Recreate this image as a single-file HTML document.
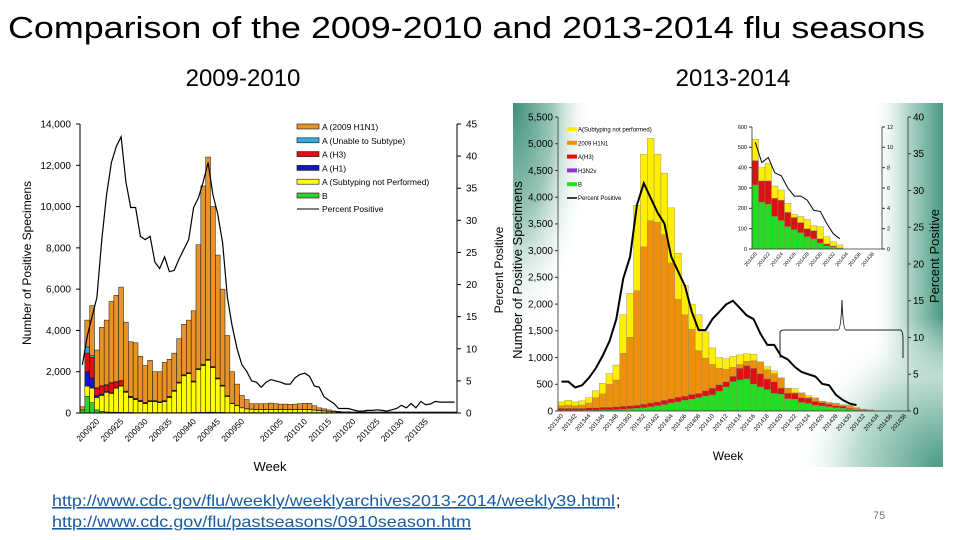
<!DOCTYPE html>
<html><head><meta charset="utf-8"><style>
html,body{margin:0;padding:0;background:#fff;width:960px;height:540px;overflow:hidden}
svg{display:block;font-family:"Liberation Sans",Arial,sans-serif}
</style></head><body>
<svg id="s" width="960" height="540" viewBox="0 0 960 540" xmlns="http://www.w3.org/2000/svg">
<defs>
<radialGradient id="g1" cx="0" cy="0" r="1" gradientUnits="userSpaceOnUse" gradientTransform="translate(513 103) scale(80 240)"><stop offset="0" stop-color="#3f8f7a"/><stop offset="0.5" stop-color="#9cc8b9"/><stop offset="1" stop-color="#ffffff" stop-opacity="0"/></radialGradient>
<linearGradient id="g2" x1="0" y1="0" x2="1" y2="0"><stop offset="0" stop-color="#ffffff" stop-opacity="0"/><stop offset="0.5" stop-color="#b5d8cb"/><stop offset="1" stop-color="#4a9a84"/></linearGradient>
<radialGradient id="g3" cx="943" cy="467" r="150" gradientUnits="userSpaceOnUse"><stop offset="0" stop-color="#4a9a84"/><stop offset="0.6" stop-color="#c0ded3"/><stop offset="1" stop-color="#ffffff" stop-opacity="0"/></radialGradient>
</defs>
<text x="8" y="38" font-size="31" textLength="917" lengthAdjust="spacingAndGlyphs" fill="#000">Comparison of the 2009-2010 and 2013-2014 flu seasons</text>
<text x="243" y="86" font-size="24" text-anchor="middle" fill="#000">2009-2010</text>
<text x="733" y="86" font-size="24" text-anchor="middle" fill="#000">2013-2014</text>
<g>
<rect x="513" y="103" width="430" height="364" fill="#ffffff"/>
<rect x="513" y="103" width="430" height="364" fill="url(#g1)"/>
<rect x="870" y="103" width="73" height="364" fill="url(#g2)"/>
<rect x="513" y="103" width="430" height="364" fill="url(#g3)"/>
</g>
<g id="left"></g>
<g id="right"></g>
<g id="inset"></g>
<path d="M780 358 L780 332 Q781 330 784 330 L838 330 Q841 330 842 300 Q843 330 846 330 L900 330 Q903 330 903 340 L903 358" fill="none" stroke="#222" stroke-width="1"/>
<a><text x="52" y="506" font-size="16" textLength="563" lengthAdjust="spacingAndGlyphs" fill="#1a5aa0" text-decoration="underline">http://www.cdc.gov/flu/weekly/weeklyarchives2013-2014/weekly39.html</text></a>
<text x="616" y="506" font-size="16" fill="#000">;</text>
<a><text x="52" y="527" font-size="16" textLength="419" lengthAdjust="spacingAndGlyphs" fill="#1a5aa0" text-decoration="underline">http://www.cdc.gov/flu/pastseasons/0910season.htm</text></a>
<text x="873" y="519" font-size="11" fill="#777">75</text>
</svg>
<script>
// ---------- 2009-2010 data (week index from 2009 wk17) ----------
const leftTotal=[300,4500,5200,3050,4150,4500,5400,5700,6100,4400,3450,3400,2750,2300,2550,2000,2000,2450,2600,2900,3600,4300,4500,4950,8150,11000,12400,10000,7650,6000,3750,2000,1400,850,650,450,450,450,450,480,450,430,430,420,430,450,470,470,350,250,200,150,100,80,60,60,50,50,50,50,50,50,50,50,50,50,50,50,50,50,50,50,50,50,50,50,50,50];
const leftGreen=[150,800,500,150,80,50,40,40,30,30,30,20,20,20,20,20,20,20,20,20,20,20,20,30,30,30,40,40,30,30,20,20,20,20,20,20,20,20,20,20,20,20,20,20,20,20,20,20,20,20,20,20,20,20,20,20,20,20,20,20,20,20,20,20,20,20,20,20,20,20,20,20,20,20,20,20,20,20];
const leftYellow=[0,500,700,600,770,950,910,1160,1270,970,720,630,530,430,530,530,480,530,730,1030,1430,1780,1880,1470,2070,2270,2510,2160,1620,1270,780,430,330,230,180,160,150,150,150,150,150,150,150,150,150,150,150,150,120,100,80,60,40,30,20,20,10,10,10,10,10,10,10,10,10,10,10,10,10,10,10,10,10,10,10,10,10,10];
const leftBlue=[0,700,500,100,60,40,30,30,30,20,20,10,10,10,10,10,10,10,10,10,10,10,10,10,10,10,10,10,10,10,10,0,0,0,0,0,0,0,0,0,0,0,0,0,0,0,0,0,0,0,0,0,0,0,0,0,0,0,0,0,0,0,0,0,0,0,0,0,0,0,0,0,0,0,0,0,0,0];
const leftRed=[0,900,1000,350,390,310,470,270,220,30,30,40,40,40,30,30,30,30,30,30,30,30,30,30,30,30,30,30,30,30,20,20,20,10,10,10,10,10,10,10,10,10,10,10,10,10,10,10,10,10,10,10,10,10,10,10,10,10,10,10,10,10,10,10,10,10,10,10,10,10,10,10,10,10,10,10,10,10];
const leftCyan=[0,300,80,20,20,20,20,20,20,10,10,10,10,10,10,10,10,10,10,10,10,10,10,10,10,10,10,10,10,10,10,0,0,0,0,0,0,0,0,0,0,0,0,0,0,0,0,0,0,0,0,0,0,0,0,0,0,0,0,0,0,0,0,0,0,0,0,0,0,0,0,0,0,0,0,0,0,0];
const leftPct=[7.5,12,15,18,27,34,39,41.5,43,36,32,32,27.5,27,27.5,23.5,22.5,24.3,22,22.2,24,25.5,27,32,33.5,36,39,34,31,26.5,18,13.5,10,7.5,6.5,5,4.8,4,4.8,5.2,5,4.8,4.5,4.5,5.5,6,6.2,5.7,4.2,4,2.5,2,1.5,0.7,0.7,0.7,0.5,0.3,0.3,0.4,0.4,0.5,0.4,0.3,0.5,0.7,1.2,0.8,1.5,0.8,1.8,1.3,1.4,1.8,1.7,1.7,1.7,1.7];
const leftYTicks=["0","2,000","4,000","6,000","8,000","10,000","12,000","14,000"];
const leftY2Ticks=["0","5","10","15","20","25","30","35","40","45"];
const leftXLabels=["200920","200925","200930","200935","200940","200945","200950","201005","201010","201015","201020","201025","201030","201035"];
const leftXLabelIdx=[3,8,13,18,23,28,33,41,46,51,56,61,66,71];
// ---------- 2013-2014 data (week index from 2013 wk40) ----------
const rightTotal=[170,200,170,190,250,380,520,700,860,1800,2200,3850,4800,5100,4800,4450,3800,2950,2350,2000,1800,1480,1180,1000,980,1020,1050,1070,1060,900,830,750,540,400,420,310,290,225,170,160,145,115,110,60,35,20,5,0,0,0,0];
const rightOrangeTop=[100,110,100,110,150,250,320,500,580,1080,1380,2250,3070,3560,3530,3300,2770,2090,1800,1530,1130,990,870,800,780,820,870,930,940,920,770,700,620,430,340,340,255,245,185,160,135,105,95,55,30,18,5,0,0,0,0];
const rightRedTop=[50,50,50,50,60,60,70,70,80,90,100,110,130,150,170,200,230,260,280,310,330,380,430,490,550,650,800,850,800,700,600,550,430,335,335,250,240,180,155,130,100,90,50,25,15,5,0,0,0,0,0];
const rightGreen=[10,10,10,10,15,15,20,20,25,30,40,50,60,80,100,120,150,170,200,220,250,280,300,370,450,550,580,600,500,450,400,330,315,230,220,160,140,110,95,80,60,50,30,15,10,3,0,0,0,0,0];
const rightPct=[4,4,3.2,3.5,4.5,5.8,7.5,9.5,12.5,18,21,28,31,29,27,25.5,21,19,17,13.5,11,11,12.5,13.5,14.5,15,14,13,12.5,10.5,9,9,7.5,7,6,5.3,5,4.7,3.7,3.5,2.2,1.5,1,0.8];
const rightYTicks=["0","500","1,000","1,500","2,000","2,500","3,000","3,500","4,000","4,500","5,000","5,500"];
const rightY2Ticks=["0","5","10","15","20","25","30","35","40"];
const rightXLabels=["201340","201342","201344","201346","201348","201350","201352","201402","201404","201406","201408","201410","201412","201414","201416","201418","201420","201422","201424","201426","201428","201430","201432","201434","201436","201438"];
// ---------- inset data (from 2014 wk20) ----------
const insetTotal=[540,400,420,310,290,225,170,160,145,115,110,60,35,20];
const insetRedTop=[435,335,335,250,240,180,155,130,100,90,50,25,15,5];
const insetGreen=[315,230,220,160,140,110,95,80,60,50,30,15,10,3];
const insetPct=[10.5,8.5,9,7.5,7.2,6,5.2,5.2,4.8,3.8,3.7,2.5,1.5,1.0];
const insetYTicks=["0","100","200","300","400","500","600"];
const insetY2Ticks=["0","2","4","6","8","10","12"];
const insetXLabels=["201420","201422","201424","201426","201428","201430","201432","201434","201436","201438"];

const NS="http://www.w3.org/2000/svg";
function mk(parent,tag,attrs,txt){const e=document.createElementNS(NS,tag);for(const k in attrs)e.setAttribute(k,attrs[k]);if(txt!==undefined)e.textContent=txt;parent.appendChild(e);return e;}

// ===== LEFT CHART =====
(function(){
const g=document.getElementById('left');
const x0=80,x1=457,yb=413,yt=124,n=78,ymax=14000,y2max=45;
const slot=(x1-x0)/n;
const X=i=>x0+i*slot;
const Y=v=>yb-(v/ymax)*(yb-yt);
const Y2=v=>yb-(v/y2max)*(yb-yt);
for(let i=0;i<leftTotal.length;i++){
  let base=0;
  const segs=[[leftGreen[i],'#33cc33'],[leftYellow[i],'#ffff00'],[leftBlue[i],'#1515cc'],[leftRed[i],'#dd1111'],[leftCyan[i],'#33aadd']];
  let sum=0;segs.forEach(s=>sum+=s[0]);
  segs.push([Math.max(0,leftTotal[i]-sum),'#e8922a']);
  segs.forEach(s=>{ if(s[0]<=0)return;
    const r=mk(g,'rect',{x:X(i),y:Y(base+s[0]),width:slot,height:Y(base)-Y(base+s[0]),fill:s[1],stroke:'#111','stroke-width':0.5});
    
    
    base+=s[0];});
}
let d='';leftPct.forEach((v,i)=>{d+=(i?'L':'M')+(X(i)+slot/2).toFixed(1)+' '+Y2(v).toFixed(1);});
const pl=mk(g,'path',{d:d,fill:'none',stroke:'#000','stroke-width':1.2});


mk(g,'line',{x1:x0,y1:yt,x2:x0,y2:yb,stroke:'#000','stroke-width':1});
mk(g,'line',{x1:x1,y1:yt,x2:x1,y2:yb,stroke:'#000','stroke-width':1});
mk(g,'line',{x1:x0,y1:yb,x2:x1,y2:yb,stroke:'#000','stroke-width':1});
leftYTicks.forEach((t,k)=>{const v=k*2000;mk(g,'line',{x1:x0-4,y1:Y(v),x2:x0,y2:Y(v),stroke:'#000'});
  const tx=mk(g,'text',{x:x0-9,y:Y(v)+3.5,'font-size':10,'text-anchor':'end'},t);
  
  });
leftY2Ticks.forEach((t,k)=>{const v=k*5;mk(g,'line',{x1:x1,y1:Y2(v),x2:x1+4,y2:Y2(v),stroke:'#000'});
  const tx=mk(g,'text',{x:x1+9,y:Y2(v)+3.5,'font-size':10},t);
  
  });
leftXLabels.forEach((t,k)=>{const cx=X(leftXLabelIdx[k])+slot/2;
  const tx=mk(g,'text',{x:cx+3,y:yb+9,'font-size':8.5,'text-anchor':'end',transform:`rotate(-45 ${cx+3} ${yb+9})`},t);
  
  });
const yt1=mk(g,'text',{x:31,y:263,'font-size':12,'text-anchor':'middle',transform:'rotate(-90 31 263)'},'Number of Positive Specimens');


const yt2=mk(g,'text',{x:503,y:270,'font-size':12,'text-anchor':'middle',transform:'rotate(-90 503 270)'},'Percent Positive');


const xt=mk(g,'text',{x:270,y:471,'font-size':13,'text-anchor':'middle'},'Week');


const leg=[['A (2009 H1N1)','#e8922a'],['A (Unable to Subtype)','#33aadd'],['A (H3)','#dd1111'],['A (H1)','#1515cc'],['A (Subtyping not Performed)','#ffff00'],['B','#33cc33']];
leg.forEach((l,k)=>{const yy=124+k*13.8;
  const r=mk(g,'rect',{x:297,y:yy,width:22,height:5,fill:l[1],stroke:'#111','stroke-width':0.6});
  
  
  const tx=mk(g,'text',{x:322,y:yy+6,'font-size':8.5},l[0]);
  
  });
mk(g,'line',{x1:297,y1:209,x2:319,y2:209,stroke:'#000'});
const lt=mk(g,'text',{x:322,y:212,'font-size':8.5},'Percent Positive');


})();

// ===== RIGHT CHART =====
function stackChart(g,cfg){
const {x0,x1,yb,yt,n,ymax,y2max}=cfg;
const slot=(x1-x0)/n;
const X=i=>x0+i*slot;
const Y=v=>yb-(v/ymax)*(yb-yt);
const Y2=v=>yb-(v/y2max)*(yb-yt);
for(let i=0;i<cfg.total.length;i++){
  const layers=[[0,cfg.green[i],'#22dd22'],[cfg.green[i],cfg.redTop[i],'#dd1111']];
  if(cfg.orangeTop) layers.push([cfg.redTop[i],cfg.orangeTop[i],'#f0900a'],[cfg.orangeTop[i],cfg.total[i],'#ffee00']);
  else layers.push([cfg.redTop[i],cfg.total[i],'#ffee00']);
  layers.forEach(L=>{ if(L[1]<=L[0])return;
    const r=mk(g,'rect',{x:X(i),y:Y(L[1]),width:slot,height:Y(L[0])-Y(L[1]),fill:L[2],stroke:'#8a8a6a','stroke-width':0.4});
    
    });
}
let d='';cfg.pct.forEach((v,i)=>{d+=(i?'L':'M')+(X(i)+slot/2).toFixed(1)+' '+Y2(v).toFixed(1);});
const pl=mk(g,'path',{d:d,fill:'none',stroke:'#000','stroke-width':cfg.lw});


mk(g,'line',{x1:x0,y1:yt,x2:x0,y2:yb,stroke:'#333','stroke-width':0.8});
mk(g,'line',{x1:x1,y1:yt,x2:x1,y2:yb,stroke:'#333','stroke-width':0.8});
mk(g,'line',{x1:x0,y1:yb,x2:x1,y2:yb,stroke:'#333','stroke-width':0.8});
const nt=cfg.yTicks.length-1;
cfg.yTicks.forEach((t,k)=>{const yy=yb-k*(yb-yt)/nt;mk(g,'line',{x1:x0-3,y1:yy,x2:x0,y2:yy,stroke:'#333'});
  const tx=mk(g,'text',{x:x0-5,y:yy+cfg.fs/3,'font-size':cfg.fs,'text-anchor':'end'},t);
  
  });
const n2=cfg.y2Ticks.length-1;
cfg.y2Ticks.forEach((t,k)=>{const yy=yb-k*(yb-yt)/n2;mk(g,'line',{x1:x1,y1:yy,x2:x1+3,y2:yy,stroke:'#333'});
  const tx=mk(g,'text',{x:x1+5,y:yy+cfg.fs/3,'font-size':cfg.fs},t);
  
  });
cfg.xLabels.forEach((t,k)=>{const cx=X(k*2)+slot/2+2;
  const tx=mk(g,'text',{x:cx,y:yb+5,'font-size':cfg.xfs,'text-anchor':'end',transform:`rotate(-50 ${cx} ${yb+5})`},t);
  
  });
}
(function(){
const g=document.getElementById('right');
stackChart(g,{name:'right',x0:558,x1:908,yb:411,yt:117,n:51,ymax:5500,y2max:40,total:rightTotal,orangeTop:rightOrangeTop,redTop:rightRedTop,green:rightGreen,pct:rightPct,yTicks:rightYTicks,y2Ticks:rightY2Ticks,xLabels:rightXLabels,fs:10,xfs:6,lw:2});
const yt1=mk(g,'text',{x:522,y:270,'font-size':13,'text-anchor':'middle',transform:'rotate(-90 522 270)'},'Number of Positive Specimens');


const yt2=mk(g,'text',{x:939,y:256,'font-size':13,'text-anchor':'middle',transform:'rotate(-90 939 256)'},'Percent Positive');


const xt=mk(g,'text',{x:728,y:460,'font-size':12,'text-anchor':'middle'},'Week');


const leg=[['A(Subtyping not performed)','#ffee00'],['2009 H1N1','#f0900a'],['A(H3)','#dd1111'],['H3N2v','#8833cc'],['B','#22dd22']];
leg.forEach((l,k)=>{const yy=127+k*13.8;
  const r=mk(g,'rect',{x:567,y:yy,width:10,height:4,fill:l[1]});
  
  
  const tx=mk(g,'text',{x:578,y:yy+4.5,'font-size':6},l[0]);
  
  });
mk(g,'line',{x1:567,y1:198,x2:577,y2:198,stroke:'#000','stroke-width':1.5});
const lt=mk(g,'text',{x:578,y:200,'font-size':6},'Percent Positive');


const gi=document.getElementById('inset');
stackChart(gi,{name:'inset',x0:752,x1:882,yb:249,yt:127,n:20,ymax:600,y2max:12,total:insetTotal,orangeTop:null,redTop:insetRedTop,green:insetGreen,pct:insetPct,yTicks:insetYTicks,y2Ticks:insetY2Ticks,xLabels:insetXLabels,fs:5.5,xfs:5,lw:1});
})();
</script>
</body></html>
